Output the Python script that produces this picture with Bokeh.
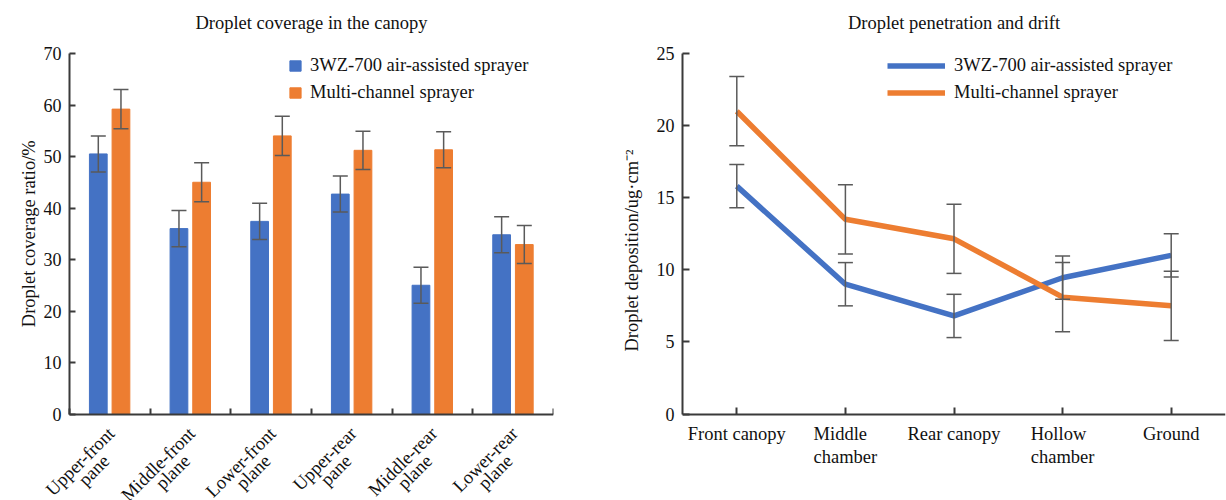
import numpy as np
from bokeh.plotting import figure
from bokeh.layouts import row
from bokeh.models import (ColumnDataSource, FixedTicker, Whisker, TeeHead, Legend, LegendItem,
                          Range1d, LabelSet, Label)
from bokeh.transform import dodge
from bokeh.embed import file_html
from bokeh.resources import INLINE

# ---------------- data ----------------
coverage_title = "Droplet coverage in the canopy"
coverage_ylabel = "Droplet coverage ratio/%"
coverage_line1 = ["Upper-front", "Middle-front", "Lower-front", "Upper-rear", "Middle-rear", "Lower-rear"]
coverage_line2 = ["pane", "plane", "plane", "pane", "plane", "plane"]
coverage_3wz = [50.5, 36.0, 37.4, 42.7, 25.0, 34.8]
coverage_3wz_err = [3.5, 3.5, 3.5, 3.5, 3.5, 3.5]
coverage_multi = [59.2, 45.0, 54.0, 51.2, 51.3, 32.9]
coverage_multi_err = [3.8, 3.8, 3.8, 3.7, 3.5, 3.7]
coverage_ticks = [0, 10, 20, 30, 40, 50, 60, 70]

deposit_title = "Droplet penetration and drift"
deposit_ylabel = "Droplet deposition/ug·cm⁻²"
deposit_categories = ["Front canopy", "Middle\nchamber", "Rear canopy", "Hollow\nchamber", "Ground"]
deposit_3wz = [15.8, 9.0, 6.8, 9.45, 11.0]
deposit_3wz_err = [1.5, 1.5, 1.5, 1.5, 1.5]
deposit_multi = [21.0, 13.5, 12.15, 8.1, 7.5]
deposit_multi_err = [2.4, 2.4, 2.4, 2.4, 2.4]
deposit_ticks = [0, 5, 10, 15, 20, 25]

series_names = ["3WZ-700 air-assisted sprayer", "Multi-channel sprayer"]

BLUE = "#4472C4"
ORANGE = "#ED7D31"
ERR = "#5a5a5a"
AXIS = "#3a3a3a"
TXT = "#111111"
FONT = "Liberation Serif"
FS = "18.5px"

H = 500          # page height
TOP = 53         # pixel row of the top of the value axis
BOTTOM = 413.5   # pixel row of the value axis zero line


def padded_range(vmax):
    ppu = (BOTTOM - TOP) / vmax
    return Range1d(-(H - BOTTOM) / ppu, vmax + TOP / ppu), ppu


def tick_only(ax, marks, tick_in):
    # tick marks without tick labels (marks drawn as minor ticks, no major ticks)
    ax.ticker = FixedTicker(ticks=[], minor_ticks=list(marks))
    ax.minor_tick_line_color = AXIS
    ax.minor_tick_line_width = 2
    ax.minor_tick_in = tick_in
    ax.minor_tick_out = 0
    ax.major_label_standoff = 0


def style(p, vmax, ticks):
    p.grid.visible = False
    p.outline_line_color = None
    for ax in (p.xaxis[0], p.yaxis[0]):
        ax.axis_line_color = AXIS
        ax.axis_line_width = 2
        ax.major_tick_line_color = AXIS
        ax.major_tick_line_width = 2
        ax.major_tick_in = 6
        ax.major_tick_out = 0
        ax.major_label_text_font = FONT
        ax.major_label_text_color = TXT
        ax.major_label_text_font_size = "18px"
        ax.axis_label_text_font = FONT
        ax.axis_label_text_font_style = "normal"
        ax.axis_label_text_color = TXT
        ax.axis_label_text_font_size = FS
    p.yaxis[0].major_label_standoff = 8
    p.yaxis[0].ticker = FixedTicker(ticks=ticks)
    p.yaxis[0].bounds = (0, vmax)
    p.yaxis[0].minor_tick_line_color = None
    p.xaxis[0].fixed_location = 0


def add_title(p, text, xmid, vmax, ppu):
    p.add_layout(Label(x=xmid, y=vmax + (TOP - 22) / ppu, text=text, text_align="center",
                       text_baseline="middle", text_font=FONT, text_font_size=FS,
                       text_color=TXT))


def whiskers(p, src, base, lo, hi):
    w = Whisker(source=src, base=base, lower=lo, upper=hi, dimension="height",
                line_color=ERR, line_width=1.5, level="annotation",
                upper_head=TeeHead(size=15, line_color=ERR, line_width=1.5),
                lower_head=TeeHead(size=15, line_color=ERR, line_width=1.5))
    p.add_layout(w)


# ---------------- left chart ----------------
n1 = len(coverage_line1)
centers1 = np.arange(n1) + 0.5
src1 = ColumnDataSource(dict(
    x=list(centers1), y0=[0] * n1, l1=coverage_line1, l2=coverage_line2,
    a=coverage_3wz, a_lo=list(np.subtract(coverage_3wz, coverage_3wz_err)),
    a_hi=list(np.add(coverage_3wz, coverage_3wz_err)),
    b=coverage_multi, b_lo=list(np.subtract(coverage_multi, coverage_multi_err)),
    b_hi=list(np.add(coverage_multi, coverage_multi_err)),
))
vmax1 = coverage_ticks[-1]
yr1, ppu1 = padded_range(vmax1)
AX_LEFT = 69                      # pixel column of the value axis
ppx1 = (553 - AX_LEFT) / n1       # pixels per category
p1 = figure(width=600, height=H, x_range=Range1d(-AX_LEFT / ppx1, n1), y_range=yr1,
            output_backend="svg", toolbar_location=None,
            min_border_left=0, min_border_right=47, min_border_top=0, min_border_bottom=0)
style(p1, vmax1, coverage_ticks)
add_title(p1, coverage_title, n1 / 2, vmax1, ppu1)

xa = dodge("x", -0.143)
xb = dodge("x", 0.138)
r_a = p1.vbar(x=xa, top="a", width=0.22, source=src1, color=BLUE)
r_b = p1.vbar(x=xb, top="b", width=0.22, source=src1, color=ORANGE)
whiskers(p1, src1, xa, "a_lo", "a_hi")
whiskers(p1, src1, xb, "b_lo", "b_hi")

# category axis: boundary ticks, rotated two-line names below it
p1.xaxis[0].bounds = (0, n1)
tick_only(p1.xaxis[0], range(n1 + 1), 6)
for col, dx, dy in (("l1", 1.5, -16.5), ("l2", -3.5, -44)):
    p1.add_layout(LabelSet(source=src1, x="x", y="y0", text=col, angle=np.pi / 4,
                           x_offset=dx, y_offset=dy, text_align="right", text_baseline="middle",
                           text_font=FONT, text_font_size=FS, text_color=TXT, level="overlay"))

# value axis drawn at x = 0, its labels as text next to it
p1.yaxis[0].fixed_location = 0
tick_only(p1.yaxis[0], coverage_ticks, 6)
ytick_src = ColumnDataSource(dict(x=[0] * len(coverage_ticks), y=coverage_ticks,
                                  t=[str(v) for v in coverage_ticks]))
p1.add_layout(LabelSet(source=ytick_src, x="x", y="y", text="t", x_offset=-8,
                       text_align="right", text_baseline="middle", text_font=FONT,
                       text_font_size="18px", text_color=TXT, level="overlay"))
p1.add_layout(Label(x=0, y=vmax1 / 2, x_offset=-40.5, text=coverage_ylabel, angle=np.pi / 2,
                    text_align="center", text_baseline="middle", text_font=FONT,
                    text_font_size=FS, text_color=TXT))

p1.add_layout(Legend(items=[LegendItem(label=series_names[0], renderers=[r_a]),
                            LegendItem(label=series_names[1], renderers=[r_b])],
                     location=(288, 397), glyph_width=14, glyph_height=13, label_height=22,
                     spacing=5, padding=0, margin=0, label_standoff=8,
                     label_text_font=FONT, label_text_font_size=FS, label_text_color=TXT,
                     border_line_color=None, background_fill_alpha=0))

# ---------------- right chart ----------------
n2 = len(deposit_categories)
centers2 = [float(c) for c in np.arange(n2) + 0.5]
src2 = ColumnDataSource(dict(
    x=centers2, y0=[0] * n2, label=deposit_categories,
    a=deposit_3wz, a_lo=list(np.subtract(deposit_3wz, deposit_3wz_err)),
    a_hi=list(np.add(deposit_3wz, deposit_3wz_err)),
    b=deposit_multi, b_lo=list(np.subtract(deposit_multi, deposit_multi_err)),
    b_hi=list(np.add(deposit_multi, deposit_multi_err)),
))
vmax2 = deposit_ticks[-1]
yr2, ppu2 = padded_range(vmax2)
p2 = figure(width=626, height=H, x_range=Range1d(0, n2), y_range=yr2,
            output_backend="svg", toolbar_location=None,
            min_border_left=82, min_border_right=1, min_border_top=0, min_border_bottom=0)
style(p2, vmax2, deposit_ticks)
p2.yaxis[0].major_tick_in = 7
add_title(p2, deposit_title, n2 / 2, vmax2, ppu2)

l_a = p2.line("x", "a", source=src2, line_color=BLUE, line_width=5.5)
l_b = p2.line("x", "b", source=src2, line_color=ORANGE, line_width=5.5)
whiskers(p2, src2, "x", "a_lo", "a_hi")
whiskers(p2, src2, "x", "b_lo", "b_hi")

tick_only(p2.xaxis[0], centers2, 7)
p2.add_layout(LabelSet(source=src2, x="x", y="y0", text="label", y_offset=-10,
                       text_align="center", text_baseline="top",
                       text_font=FONT, text_font_size=FS, text_color=TXT,
                       text_line_height=1.17, level="overlay"))

p2.yaxis[0].axis_label = deposit_ylabel
p2.yaxis[0].axis_label_standoff = 12

p2.add_layout(Legend(items=[LegendItem(label=series_names[0], renderers=[l_a]),
                            LegendItem(label=series_names[1], renderers=[l_b])],
                     location=(205, 397), glyph_width=58, glyph_height=13, label_height=22,
                     spacing=5, padding=0, margin=0, label_standoff=9,
                     label_text_font=FONT, label_text_font_size=FS, label_text_color=TXT,
                     border_line_color=None, background_fill_alpha=0))

layout = row(p1, p2)
open("out.html", "w").write(file_html(layout, INLINE))
